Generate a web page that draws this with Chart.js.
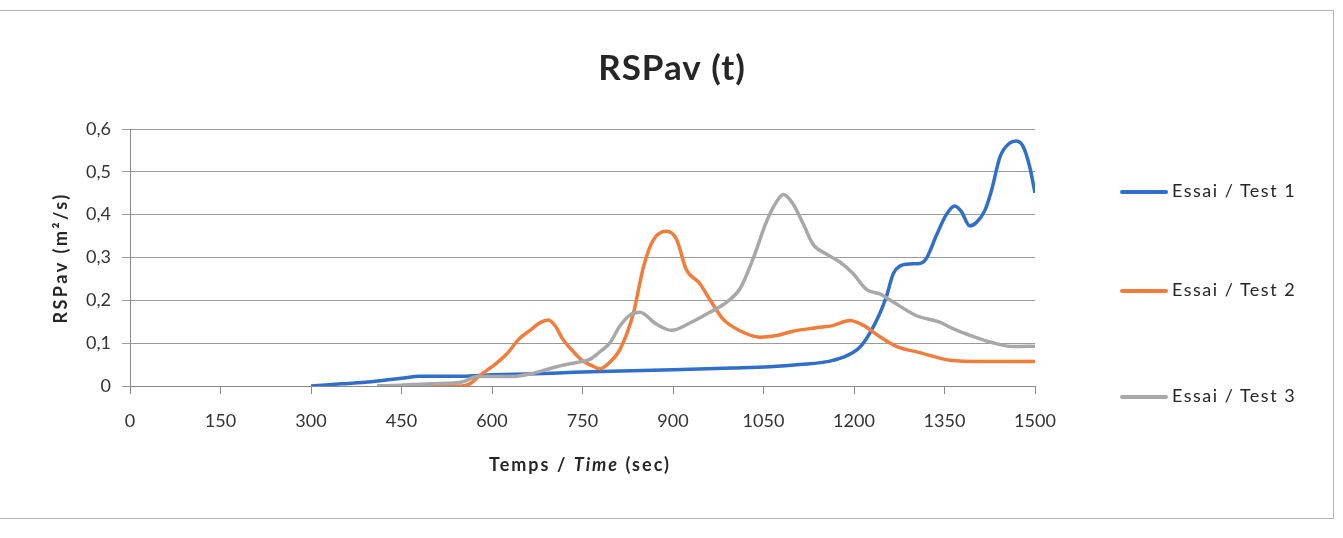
<!DOCTYPE html>
<html>
<head>
<meta charset="utf-8">
<script src="https://cdn.jsdelivr.net/npm/chart.js@4.4.1/dist/chart.umd.min.js"></script>
<style>
    body { margin: 0; background: #fff; }
    #wrap { position: relative; width: 1343px; height: 538px; }
    #frame { position: absolute; left: -1px; top: 10px; width: 1333px; height: 507px; border: 1px solid #b4b4b4; pointer-events: none; }
    #legend { position: absolute; left: 1120px; top: 0; font-family: Lato, sans-serif; font-size: 18px; color: #262626; letter-spacing: 1.5px; }
    .item { position: absolute; left: 0; white-space: nowrap; }
    .swatch { display: inline-block; width: 48px; height: 4px; border-radius: 2px; vertical-align: middle; margin-right: 4px; }
</style>
</head>
<body>
<div id="wrap">
    <canvas id="rspavChart" width="1343" height="538"></canvas>
    <div id="frame"></div>
    <div id="legend"></div>
</div>
<script>
// chart texts
var chartTitle = 'RSPav (t)';
var yTitle = 'RSPav (m²/s)';
var xTitleParts = [['Temps / ', 'bold'], ['Time', 'italic bold'], [' (sec)', 'bold']];
var seriesNames = ['Essai / Test 1', 'Essai / Test 2', 'Essai / Test 3'];

// axis ticks
var xTicks = [0, 150, 300, 450, 600, 750, 900, 1050, 1200, 1350, 1500];
var yTicks = [0, 0.1, 0.2, 0.3, 0.4, 0.5, 0.6];

// Essai / Test 1
var time1 = [300, 350, 400, 450, 480, 550, 600, 700, 780, 900, 1000, 1060, 1110, 1160, 1190, 1210, 1226, 1243, 1254, 1265, 1276, 1292, 1309, 1320, 1337, 1353, 1367, 1378, 1392, 1403, 1417, 1428, 1442, 1458, 1469, 1480, 1491, 1500];
var rspav1 = [0, 0.005, 0.01, 0.018, 0.023, 0.023, 0.026, 0.03, 0.034, 0.038, 0.042, 0.045, 0.05, 0.058, 0.072, 0.091, 0.123, 0.17, 0.21, 0.262, 0.28, 0.285, 0.286, 0.298, 0.353, 0.4, 0.42, 0.407, 0.374, 0.382, 0.41, 0.457, 0.535, 0.567, 0.572, 0.56, 0.513, 0.451];

// Essai / Test 2
var time2 = [410, 450, 500, 550, 563, 580, 600, 624, 645, 663, 680, 693, 705, 717, 735, 751, 765, 779, 795, 812, 834, 851, 867, 889, 906, 922, 944, 961, 983, 1011, 1044, 1072, 1099, 1138, 1165, 1193, 1215, 1243, 1271, 1309, 1359, 1414, 1500];
var rspav2 = [0, 0, 0, 0, 0.005, 0.025, 0.045, 0.074, 0.11, 0.13, 0.148, 0.154, 0.14, 0.11, 0.08, 0.058, 0.048, 0.04, 0.055, 0.085, 0.168, 0.278, 0.34, 0.361, 0.342, 0.272, 0.24, 0.202, 0.156, 0.129, 0.114, 0.118, 0.128, 0.136, 0.141, 0.153, 0.142, 0.115, 0.092, 0.078, 0.06, 0.057, 0.057];

// Essai / Test 3
var time3 = [410, 450, 500, 552, 575, 596, 630, 663, 707, 740, 762, 779, 795, 812, 828, 845, 872, 898, 928, 961, 989, 1011, 1033, 1055, 1072, 1083, 1099, 1116, 1132, 1154, 1176, 1198, 1221, 1243, 1265, 1304, 1342, 1364, 1397, 1430, 1463, 1500];
var rspav3 = [0, 0.002, 0.005, 0.01, 0.022, 0.022, 0.022, 0.028, 0.045, 0.055, 0.062, 0.08, 0.1, 0.14, 0.165, 0.172, 0.145, 0.13, 0.147, 0.172, 0.196, 0.227, 0.298, 0.384, 0.431, 0.447, 0.425, 0.378, 0.331, 0.308, 0.29, 0.263, 0.225, 0.215, 0.196, 0.164, 0.149, 0.134, 0.116, 0.101, 0.092, 0.093];

var lineColors = ['#2f6fcb', '#f47c3a', '#a8a8a8'];
var font = 'Lato, "Open Sans", sans-serif';

function toPoints(xs, ys) {
    return xs.map(function (x, i) { return { x: x, y: ys[i] }; });
}

function makeSet(i, xs, ys) {
    return {
        label: seriesNames[i],
        data: toPoints(xs, ys),
        borderColor: lineColors[i],
        backgroundColor: lineColors[i],
        borderWidth: 3.5,
        pointRadius: 0,
        cubicInterpolationMode: 'monotone',
        order: 3 - i
    };
}

// titles drawn by hand so the x title can mix italic and plain
var textPlugin = {
    id: 'texts',
    afterDraw: function (chart) {
        var ctx = chart.ctx;
        ctx.save();
        ctx.fillStyle = '#262626';
        ctx.textBaseline = 'middle';

        ctx.font = 'bold 35px ' + font;
        ctx.letterSpacing = '1px';
        ctx.textAlign = 'center';
        ctx.fillText(chartTitle, 672, 69);

        // x axis title
        ctx.textAlign = 'left';
        ctx.letterSpacing = '2px';
        var total = 0;
        xTitleParts.forEach(function (p) {
            ctx.font = p[1] + ' 18px ' + font;
            total += ctx.measureText(p[0]).width;
        });
        var x = 580 - total / 2;
        xTitleParts.forEach(function (p) {
            ctx.font = p[1] + ' 18px ' + font;
            ctx.fillText(p[0], x, 465);
            x += ctx.measureText(p[0]).width;
        });

        // y axis title
        ctx.translate(61, 258);
        ctx.rotate(-Math.PI / 2);
        ctx.textAlign = 'center';
        ctx.letterSpacing = '2.5px';
        ctx.font = 'bold 18px ' + font;
        ctx.fillText(yTitle, 0, 0);
        ctx.restore();
    }
};

var ctx = document.getElementById('rspavChart').getContext('2d');

var rspavChart = new Chart(ctx, {
    type: 'line',
    data: {
        datasets: [
            makeSet(0, time1, rspav1),
            makeSet(1, time2, rspav2),
            makeSet(2, time3, rspav3)
        ]
    },
    options: {
        responsive: false,
        animation: false,
        layout: {
            padding: { left: 0, right: 308, top: 129, bottom: 0 }
        },
        plugins: {
            legend: { display: false },
            title: { display: false },
            tooltip: { enabled: false }
        },
        scales: {
            x: {
                type: 'linear',
                min: 0,
                max: 1500,
                afterFit: function (scale) { scale.height = 152; },
                afterBuildTicks: function (scale) {
                    scale.ticks = xTicks.map(function (v) { return { value: v }; });
                },
                grid: {
                    drawOnChartArea: false,
                    drawTicks: true,
                    tickLength: 8,
                    color: '#8a8a8a'
                },
                border: { display: true, color: '#8a8a8a' },
                ticks: {
                    padding: 16,
                    maxRotation: 0,
                    color: '#333',
                    font: { family: font, size: 18 },
                    callback: function (value) { return String(value); }
                }
            },
            y: {
                min: 0,
                max: 0.6,
                afterFit: function (scale) { scale.width = 130; },
                afterBuildTicks: function (scale) {
                    scale.ticks = yTicks.map(function (v) { return { value: v }; });
                },
                grid: {
                    color: '#9a9a9a',
                    lineWidth: 1,
                    tickLength: 8
                },
                border: { display: true, color: '#8a8a8a' },
                ticks: {
                    padding: 11,
                    color: '#333',
                    font: { family: font, size: 18 },
                    callback: function (value) {
                        return value === 0 ? '0' : value.toFixed(1).replace('.', ',');
                    }
                }
            }
        }
    },
    plugins: [textPlugin]
});

// legend on the right, spaced like the original
var legendTops = [191, 290, 396];
var legendBox = document.getElementById('legend');
rspavChart.data.datasets.forEach(function (ds, i) {
    var item = document.createElement('div');
    item.className = 'item';
    item.style.top = (legendTops[i] - 12) + 'px';
    var sw = document.createElement('span');
    sw.className = 'swatch';
    sw.style.background = ds.borderColor;
    item.appendChild(sw);
    item.appendChild(document.createTextNode(ds.label));
    legendBox.appendChild(item);
});
</script>
</body>
</html>
